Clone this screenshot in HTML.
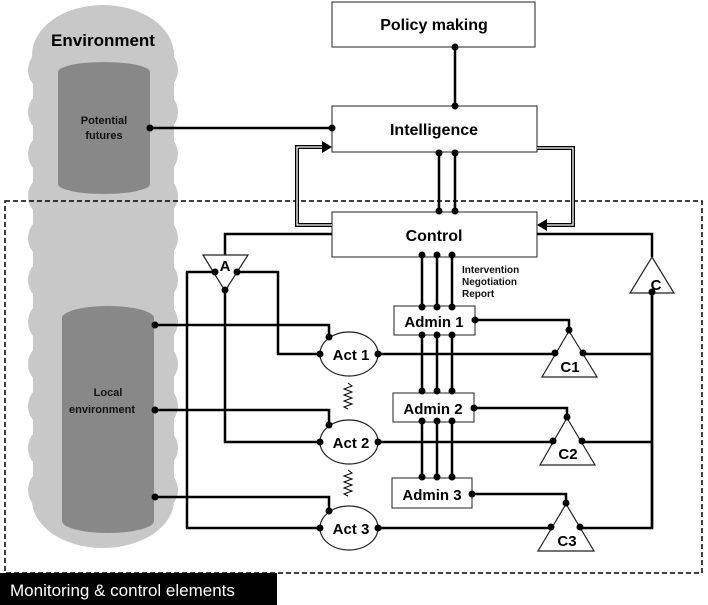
<!DOCTYPE html>
<html><head><style>html,body{margin:0;padding:0;background:#fff;}svg{display:block}</style></head>
<body>
<svg width="708" height="605" viewBox="0 0 708 605" xmlns="http://www.w3.org/2000/svg" font-family="Liberation Sans, sans-serif" font-weight="bold">
<defs>
<marker id="ar" markerWidth="8" markerHeight="8" refX="7" refY="4" orient="auto" markerUnits="userSpaceOnUse"><path d="M0,0 L8,4 L0,8 z" fill="#000"/></marker>
</defs>
<!-- environment blob -->
<g fill="#c8c8c8">
<ellipse cx="103" cy="55" rx="71" ry="50"/>
<rect x="33" y="50" width="141" height="450"/>
<ellipse cx="103" cy="500" rx="71" ry="48"/>
<circle cx="50" cy="70" r="22"/><circle cx="50" cy="112" r="22"/><circle cx="50" cy="154" r="22"/><circle cx="50" cy="196" r="22"/><circle cx="50" cy="238" r="22"/><circle cx="50" cy="280" r="22"/><circle cx="50" cy="322" r="22"/><circle cx="50" cy="364" r="22"/><circle cx="50" cy="406" r="22"/><circle cx="50" cy="448" r="22"/><circle cx="50" cy="490" r="22"/>
<circle cx="156" cy="70" r="22"/><circle cx="156" cy="112" r="22"/><circle cx="156" cy="154" r="22"/><circle cx="156" cy="196" r="22"/><circle cx="156" cy="238" r="22"/><circle cx="156" cy="280" r="22"/><circle cx="156" cy="322" r="22"/><circle cx="156" cy="364" r="22"/><circle cx="156" cy="406" r="22"/><circle cx="156" cy="448" r="22"/><circle cx="156" cy="490" r="22"/>
</g>
<g fill="#888">
<ellipse cx="104" cy="72" rx="46" ry="10"/>
<rect x="58" y="72" width="92" height="112"/>
<ellipse cx="104" cy="184" rx="46" ry="10"/>
<ellipse cx="108" cy="318" rx="46" ry="12"/>
<rect x="62" y="318" width="92" height="203"/>
<ellipse cx="108" cy="521" rx="46" ry="12"/>
</g>
<text x="103" y="46" font-size="17" text-anchor="middle">Environment</text>
<text x="104" y="124" font-size="11" text-anchor="middle" fill="#111">Potential</text>
<text x="104" y="139" font-size="11" text-anchor="middle" fill="#111">futures</text>
<text x="108" y="396" font-size="11" text-anchor="middle" fill="#111">Local</text>
<text x="102" y="413" font-size="11" text-anchor="middle" fill="#111">environment</text>

<!-- dashed region -->
<rect x="5" y="201" width="697" height="372" fill="none" stroke="#000" stroke-width="1.5" stroke-dasharray="5,3"/>
<rect x="0" y="573" width="277" height="32" fill="#000"/>
<text x="10" y="596" font-size="17" font-weight="normal" fill="#fff">Monitoring &amp; control elements</text>

<!-- boxes -->
<g fill="#fff" stroke="#222" stroke-width="1">
<rect x="332" y="2" width="203" height="45"/>
<rect x="332" y="106" width="205" height="46"/>
<rect x="332" y="212" width="205" height="45"/>
<rect x="394" y="306" width="81" height="29"/>
<rect x="393" y="393" width="81" height="29"/>
<rect x="392" y="478" width="80" height="30"/>
</g>
<g font-size="16" text-anchor="middle">
<text x="434" y="30">Policy making</text>
<text x="434" y="135">Intelligence</text>
<text x="434" y="241">Control</text>
<text x="434" y="327" font-size="15">Admin 1</text>
<text x="433" y="414" font-size="15">Admin 2</text>
<text x="432" y="500" font-size="15">Admin 3</text>
</g>
<g font-size="10" fill="#111">
<text x="462" y="273">Intervention</text>
<text x="462" y="285">Negotiation</text>
<text x="462" y="297">Report</text>
</g>

<!-- double feedback lines -->
<g fill="none">
<path d="M332,225 H297 V147 H324" stroke="#000" stroke-width="4"/>
<path d="M332,225 H297 V147 H324" stroke="#fff" stroke-width="1.3"/>
<path d="M537,148 H573 V225 H545" stroke="#000" stroke-width="4"/>
<path d="M537,148 H573 V225 H545" stroke="#fff" stroke-width="1.3"/>
</g>
<path d="M322,141 L332,147 L322,153 z" fill="#000"/>
<path d="M547,219 L537,225 L547,231 z" fill="#000"/>

<!-- lines -->
<g fill="none" stroke="#000" stroke-width="2.5">
<path d="M455,47 V106"/>
<path d="M150,128 H332"/>
<path d="M439,152 V212 M455,152 V212"/>
<path d="M422,257 V306 M437,257 V306 M452,257 V306"/>
<path d="M422,335 V393 M437,335 V393 M452,335 V393"/>
<path d="M422,422 V478 M437,422 V478 M452,422 V478"/>
<path d="M332,234 H225 V256"/>
<path d="M215,272 H187 V528 H320"/>
<path d="M237,272 H278 V354 H320"/>
<path d="M225,290 V442 H320"/>
<path d="M155,325 H329 V337"/>
<path d="M155,410 H329 V425"/>
<path d="M155,497 H329 V511"/>
<path d="M378,354 H555 M583,354 H652"/>
<path d="M378,442 H553 M582,442 H652"/>
<path d="M378,528 H551 M580,528 H652 V292"/>
<path d="M537,234 H652 V257"/>
<path d="M475,320 H569 V331"/>
<path d="M474,408 H567 V418"/>
<path d="M472,494 H566 V504"/>
</g>
<!-- triangles -->
<g fill="#fff" stroke="#222" stroke-width="1.2">
<path d="M203,255 H248 L225,291 z"/>
<path d="M652,257 L674,293 H630 z"/>
<path d="M569,331 L597,377 H542 z"/>
<path d="M567,418 L595,465 H540 z"/>
<path d="M566,504 L594,551 H538 z"/>
</g>
<path d="M652,292 V528" stroke="#000" stroke-width="2.5"/>
<g font-size="15" text-anchor="middle">
<text x="225" y="271">A</text>
<text x="656" y="290">C</text>
<text x="570" y="372">C1</text>
<text x="568" y="459">C2</text>
<text x="567" y="546">C3</text>
</g>
<!-- ellipses -->
<g fill="#fff" stroke="#222" stroke-width="1.2">
<ellipse cx="349" cy="354" rx="29" ry="22"/>
<ellipse cx="349" cy="442" rx="29" ry="22"/>
<ellipse cx="349" cy="528" rx="29" ry="22"/>
</g>
<g font-size="15" text-anchor="middle">
<text x="351" y="360">Act 1</text>
<text x="351" y="448">Act 2</text>
<text x="351" y="534">Act 3</text>
</g>
<g fill="none" stroke="#000" stroke-width="1">
<path d="M348,383 l4,3 l-8,3 l8,3 l-8,3 l8,3 l-8,3 l8,3 l-8,3 l4,2"/>
<path d="M348,470 l4,3 l-8,3 l8,3 l-8,3 l8,3 l-8,3 l8,3 l-8,3 l4,2"/>
</g>
<!-- dots -->
<g fill="#000">
<circle cx="455" cy="47" r="3.5"/><circle cx="455" cy="106" r="3.5"/>
<circle cx="150" cy="128" r="3.5"/><circle cx="332" cy="128" r="3.5"/>
<circle cx="439" cy="153" r="3.5"/><circle cx="455" cy="153" r="3.5"/><circle cx="439" cy="211" r="3.5"/><circle cx="455" cy="211" r="3.5"/>
<circle cx="422" cy="255" r="3.5"/><circle cx="437" cy="255" r="3.5"/><circle cx="452" cy="255" r="3.5"/>
<circle cx="422" cy="307" r="3.5"/><circle cx="437" cy="307" r="3.5"/><circle cx="452" cy="307" r="3.5"/>
<circle cx="422" cy="335" r="3.5"/><circle cx="437" cy="335" r="3.5"/><circle cx="452" cy="335" r="3.5"/>
<circle cx="422" cy="391" r="3.5"/><circle cx="437" cy="391" r="3.5"/><circle cx="452" cy="391" r="3.5"/>
<circle cx="422" cy="421" r="3.5"/><circle cx="437" cy="421" r="3.5"/><circle cx="452" cy="421" r="3.5"/>
<circle cx="422" cy="477" r="3.5"/><circle cx="437" cy="477" r="3.5"/><circle cx="452" cy="477" r="3.5"/>
<circle cx="215" cy="272" r="3.5"/><circle cx="237" cy="272" r="3.5"/><circle cx="225" cy="290" r="3.5"/>
<circle cx="155" cy="325" r="3.5"/><circle cx="155" cy="410" r="3.5"/><circle cx="155" cy="497" r="3.5"/>
<circle cx="329" cy="337" r="3.5"/><circle cx="329" cy="425" r="3.5"/><circle cx="329" cy="511" r="3.5"/>
<circle cx="320" cy="354" r="3.5"/><circle cx="320" cy="442" r="3.5"/><circle cx="320" cy="528" r="3.5"/>
<circle cx="378" cy="354" r="3.5"/><circle cx="378" cy="442" r="3.5"/><circle cx="378" cy="528" r="3.5"/>
<circle cx="555" cy="353" r="3.5"/><circle cx="583" cy="353" r="3.5"/><circle cx="569" cy="330" r="3.5"/>
<circle cx="553" cy="441" r="3.5"/><circle cx="582" cy="441" r="3.5"/><circle cx="567" cy="417" r="3.5"/>
<circle cx="551" cy="527" r="3.5"/><circle cx="580" cy="527" r="3.5"/><circle cx="566" cy="503" r="3.5"/>
<circle cx="475" cy="320" r="3.5"/><circle cx="474" cy="408" r="3.5"/><circle cx="472" cy="494" r="3.5"/>
<circle cx="652" cy="292" r="3.5"/>
</g>
</svg>
</body></html>
